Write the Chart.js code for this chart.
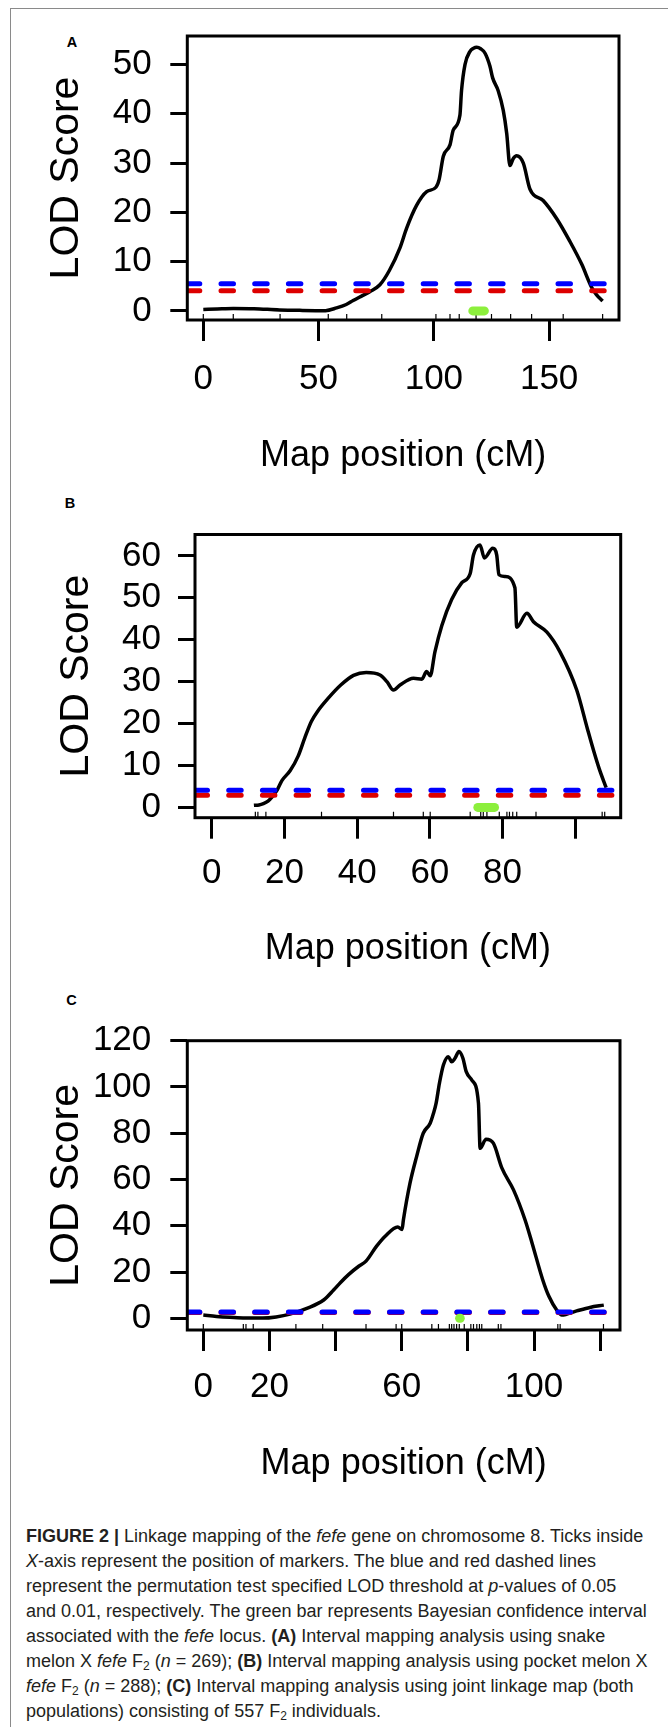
<!DOCTYPE html>
<html>
<head>
<meta charset="utf-8">
<script src="https://cdn.jsdelivr.net/npm/chart.js@4.4.1/dist/chart.umd.min.js"></script>
<style>
  html, body { margin: 0; padding: 0; background: #fff; }
  body { width: 668px; height: 1727px; position: relative; overflow: hidden; font-family: "Liberation Sans", Arial, sans-serif; }
  .frame { position: absolute; left: 10px; top: 8px; width: 720px; height: 1800px; border-left: 1px solid #8a8a8a; border-top: 1px solid #8a8a8a; }
  canvas { position: absolute; left: 0; }
  .tag { position: absolute; font-weight: bold; font-size: 14.5px; line-height: 1; transform: translateX(-50%); color: #000; }
  .caption { position: absolute; left: 26px; top: 1523.5px; font-size: 18px; line-height: 25px; color: #231f20; white-space: nowrap; }
  .caption sub { font-size: 12px; line-height: 0; vertical-align: -3px; }
</style>
</head>
<body>
<div class="frame"></div>
<div class="tag" style="left:72px;top:34.5px">A</div>
<div class="tag" style="left:70px;top:496px">B</div>
<div class="tag" style="left:71.5px;top:993px">C</div>
<canvas id="chartA" width="668" height="500" style="top:0;width:668px;height:500px"></canvas>
<canvas id="chartB" width="668" height="480" style="top:500px;width:668px;height:480px"></canvas>
<canvas id="chartC" width="668" height="520" style="top:980px;width:668px;height:520px"></canvas>
<div class="caption">
<b>FIGURE 2 |</b> Linkage mapping of the <i>fefe</i> gene on chromosome 8. Ticks inside<br>
<i>X</i>-axis represent the position of markers. The blue and red dashed lines<br>
represent the permutation test specified LOD threshold at <i>p</i>-values of 0.05<br>
and 0.01, respectively. The green bar represents Bayesian confidence interval<br>
associated with the <i>fefe</i> locus. <b>(A)</b> Interval mapping analysis using snake<br>
melon X <i>fefe</i> F<sub>2</sub> (<i>n</i> = 269); <b>(B)</b> Interval mapping analysis using pocket melon X<br>
<i>fefe</i> F<sub>2</sub> (<i>n</i> = 288); <b>(C)</b> Interval mapping analysis using joint linkage map (both<br>
populations) consisting of 557 F<sub>2</sub> individuals.
</div>

<script>
// ---- panel A: snake melon X fefe F2 ----
const posA = [0, 6, 13, 22, 33, 43, 53, 57.8, 62, 65, 69, 72.2, 76.6, 80.7, 85.3, 88.2, 92.5, 96.9, 100.9, 102.3, 104.1, 107, 108.4, 111.3, 112, 113.5, 115.7, 117.2, 118.6, 120.3, 122.2, 124.3, 125.5, 127.9, 130.1, 131.6, 133, 134.4, 135.9, 138.8, 141.7, 147.4, 153.3, 159, 164.1, 168.4, 170.5, 173.2];
const lodA = [0.3, 0.4, 0.5, 0.45, 0.2, 0.1, 0.05, 0.6, 1.3, 2.1, 3.1, 3.9, 5.3, 8.2, 12.8, 16.8, 21.4, 24.2, 25.1, 26.7, 31.4, 33.7, 36.7, 39.7, 44.7, 50, 52.7, 53.3, 53.5, 53.2, 52.3, 49.7, 47.3, 44.7, 40.7, 36, 29.5, 30.9, 31.5, 30, 24.7, 22.4, 18.7, 14.1, 9.5, 4.8, 3.3, 2];
const markersA = [0, 13, 33.3, 54.2, 62.2, 77.4, 100.9, 107, 111, 118.3, 125, 133.3, 142.4, 156.1, 173.2];
const thresholdA = [5.5, 4.1];          // blue p=0.05, red p=0.01
const ciA = [116.9, 121.9];
const xTicksA = [0, 50, 100, 150];
const xLabelsA = [0, 50, 100, 150];
const yTicksA = [0, 10, 20, 30, 40, 50];
const xRangeA = [-6.94, 180.3];
const yRangeA = [-1.85, 55.8];

// ---- panel B: pocket melon X fefe F2 ----
const posB = [11.6, 13, 14.2, 15.5, 16.5, 17.9, 19.3, 21.6, 23.8, 25.6, 27.4, 29.1, 32, 35.5, 39, 42.5, 46.3, 48.2, 50, 51.8, 55.5, 57.8, 59.1, 60.1, 61.4, 63.3, 66, 68.8, 71.1, 72, 73.8, 75, 77.3, 78.4, 79, 80.7, 83.4, 83.9, 86.7, 88.5, 92.2, 95.8, 100.4, 103.3, 105.1, 106.6, 108.5];
const lodB = [0.5, 0.6, 0.9, 1.5, 2.4, 4, 6.4, 8.8, 12.3, 16.6, 20.5, 22.9, 26, 29.2, 31.5, 32.2, 31.6, 30, 28, 29.2, 30.8, 30.6, 32.4, 31.4, 37.1, 43.4, 49.6, 53.6, 55.8, 60.2, 62.6, 59.5, 61.8, 60.2, 55.5, 55.1, 52.4, 43, 46.3, 44.3, 41.8, 37.1, 28, 18.9, 13.4, 9.2, 4.7];
const markersB = [12, 12.7, 14.9, 30.2, 50, 58.2, 60.1, 71.1, 74, 74.7, 75.7, 79.1, 81.2, 81.9, 82.8, 83.9, 89.2, 107.4, 108.1];
const thresholdB = [4.1, 2.9];
const ciB = [73.2, 77.8];
const xTicksB = [0, 20, 40, 60, 80, 100];
const xLabelsB = [0, 20, 40, 60, 80];
const yTicksB = [0, 10, 20, 30, 40, 50, 60];
const xRangeB = [-4.6, 112.5];
const yRangeB = [-2.45, 65.1];

// ---- panel C: joint linkage map, 557 F2 ----
const posC = [0, 4, 8, 12, 18, 22, 26.2, 31.3, 36.4, 39.4, 41.5, 44, 47, 49.2, 52.4, 55, 58.8, 60.1, 60.5, 62.5, 64.5, 66.5, 68.6, 69.6, 70.4, 71.4, 72.6, 74.1, 75.1, 76.1, 77.3, 78.5, 79.5, 81.2, 83.2, 83.7, 85.5, 87.7, 90.3, 93.8, 97.3, 99.4, 102.6, 104.5, 106.9, 108.4, 112.9, 116.9, 121.1];
const lodC = [1.4, 0.8, 0.4, 0.15, 0.1, 0.6, 1.8, 4.3, 7.9, 12.2, 15.5, 19, 22.5, 24.7, 31.2, 35.5, 39.5, 38.4, 42.5, 58.4, 69.9, 80, 84.3, 88.6, 93, 101.6, 109.5, 113.1, 110.9, 112.4, 115.3, 112.4, 106.6, 103, 93, 73.5, 77.4, 75.7, 64.9, 55.5, 42.5, 32.6, 16.8, 9.5, 3.5, 1.4, 3.2, 4.7, 5.7];
const markersC = [0, 12.1, 12.9, 15.1, 28, 36.1, 49.2, 58.3, 60, 69.1, 71.1, 74.4, 75.1, 75.8, 76.6, 77.4, 78.9, 80.9, 81.7, 82.7, 83.5, 84.2, 89.2, 90, 107.2, 107.9, 121];
const thresholdC = [2.7, 2.5];
const ciC = [77.5, 77.7];
const xTicksC = [0, 20, 40, 60, 80, 100, 120];
const xLabelsC = [0, 20, 60, 100];
const yTicksC = [0, 20, 40, 60, 80, 100, 120];
const xRangeC = [-4.84, 126];
const yRangeC = [-5.06, 120];

const FONT = '"Liberation Sans", Arial, sans-serif';

// R-style closed box around the plot region
const plotBox = {
  id: 'plotBox',
  afterDraw(chart) {
    const { ctx, chartArea: a } = chart;
    ctx.save();
    ctx.lineWidth = 3;
    ctx.strokeStyle = '#000';
    ctx.strokeRect(a.left, a.top, a.right - a.left, a.bottom - a.top);
    ctx.restore();
  }
};

function lodPanel(id, d, lay) {
  const flat = (y) => [{ x: d.xRange[0], y }, { x: d.xRange[1], y }];
  const dashed = { showLine: true, pointRadius: 0, borderWidth: 5, borderDash: [12.5, 21.2], borderCapStyle: 'round' };
  return new Chart(document.getElementById(id), {
    type: 'scatter',
    data: {
      // listed top-most first
      datasets: [
        { data: d.ci.map(x => ({ x, y: 0 })), showLine: true, pointRadius: 0, borderColor: '#8cef3c', borderWidth: 9, borderCapStyle: 'round' },
        { ...dashed, data: flat(d.threshold[0]), borderColor: '#0000ff' },
        { ...dashed, data: flat(d.threshold[1]), borderColor: '#dd0000' },
        { data: d.pos.map((x, i) => ({ x, y: d.lod[i] })), showLine: true, pointRadius: 0, borderColor: '#000', borderWidth: 3.5, cubicInterpolationMode: 'monotone' },
        { data: d.markers.map(x => ({ x, y: d.yRange[0] })), pointStyle: 'line', pointRotation: 90, pointRadius: 6, pointBorderWidth: 1.2, pointBorderColor: '#000', clip: 0 },
      ]
    },
    options: {
      responsive: false, animation: false, devicePixelRatio: 1, events: [],
      layout: { padding: lay.pad },
      plugins: { legend: { display: false }, tooltip: { enabled: false } },
      scales: {
        x: {
          type: 'linear', min: d.xRange[0], max: d.xRange[1],
          afterBuildTicks: s => { s.ticks = d.xTicks.map(value => ({ value })); },
          afterFit: s => { s.height = lay.xHeight; },
          grid: { drawOnChartArea: false, color: '#000', tickLength: 21, tickWidth: 3 },
          border: { display: false },
          ticks: { color: '#000', padding: lay.xLabelPad, autoSkip: false, maxRotation: 0,
                   font: { family: FONT, size: 35, lineHeight: 1 },
                   callback: v => d.xLabels.includes(v) ? String(v) : '' },
          title: { display: true, text: 'Map position (cM)', color: '#000',
                   font: { family: FONT, size: 36, lineHeight: 1 }, padding: { top: 0, bottom: lay.xTitlePad } }
        },
        y: {
          type: 'linear', min: d.yRange[0], max: d.yRange[1],
          afterBuildTicks: s => { s.ticks = d.yTicks.map(value => ({ value })); },
          afterFit: s => { s.width = lay.yWidth; },
          grid: { drawOnChartArea: false, color: '#000', tickLength: 17, tickWidth: 3 },
          border: { display: false },
          ticks: { color: '#000', padding: lay.yLabelPad, font: { family: FONT, size: 35, lineHeight: 1 } },
          title: { display: true, text: 'LOD Score', color: '#000',
                   font: { family: FONT, size: 41, lineHeight: 1 }, padding: { top: lay.yTitlePad, bottom: 0 } }
        }
      }
    },
    plugins: [plotBox]
  });
}

lodPanel('chartA',
  { pos: posA, lod: lodA, markers: markersA, threshold: thresholdA, ci: ciA, xTicks: xTicksA, xLabels: xLabelsA, yTicks: yTicksA, xRange: xRangeA, yRange: yRangeA },
  { pad: { left: 0, top: 31, right: 49, bottom: 0 }, yWidth: 187.3, xHeight: 180, xLabelPad: 21, xTitlePad: 26, yLabelPad: 18.5, yTitlePad: 46.5 });

lodPanel('chartB',
  { pos: posB, lod: lodB, markers: markersB, threshold: thresholdB, ci: ciB, xTicks: xTicksB, xLabels: xLabelsB, yTicks: yTicksB, xRange: xRangeB, yRange: yRangeB },
  { pad: { left: 0, top: 31, right: 47.3, bottom: 0 }, yWidth: 195, xHeight: 162.3, xLabelPad: 17.5, xTitlePad: 12.5, yLabelPad: 17, yTitlePad: 56.2 });

lodPanel('chartC',
  { pos: posC, lod: lodC, markers: markersC, threshold: thresholdC, ci: ciC, xTicks: xTicksC, xLabels: xLabelsC, yTicks: yTicksC, xRange: xRangeC, yRange: yRangeC },
  { pad: { left: 0, top: 60.7, right: 48, bottom: 0 }, yWidth: 187.3, xHeight: 170, xLabelPad: 18.5, xTitlePad: 17.5, yLabelPad: 19, yTitlePad: 46.2 });
</script>
</body>
</html>
